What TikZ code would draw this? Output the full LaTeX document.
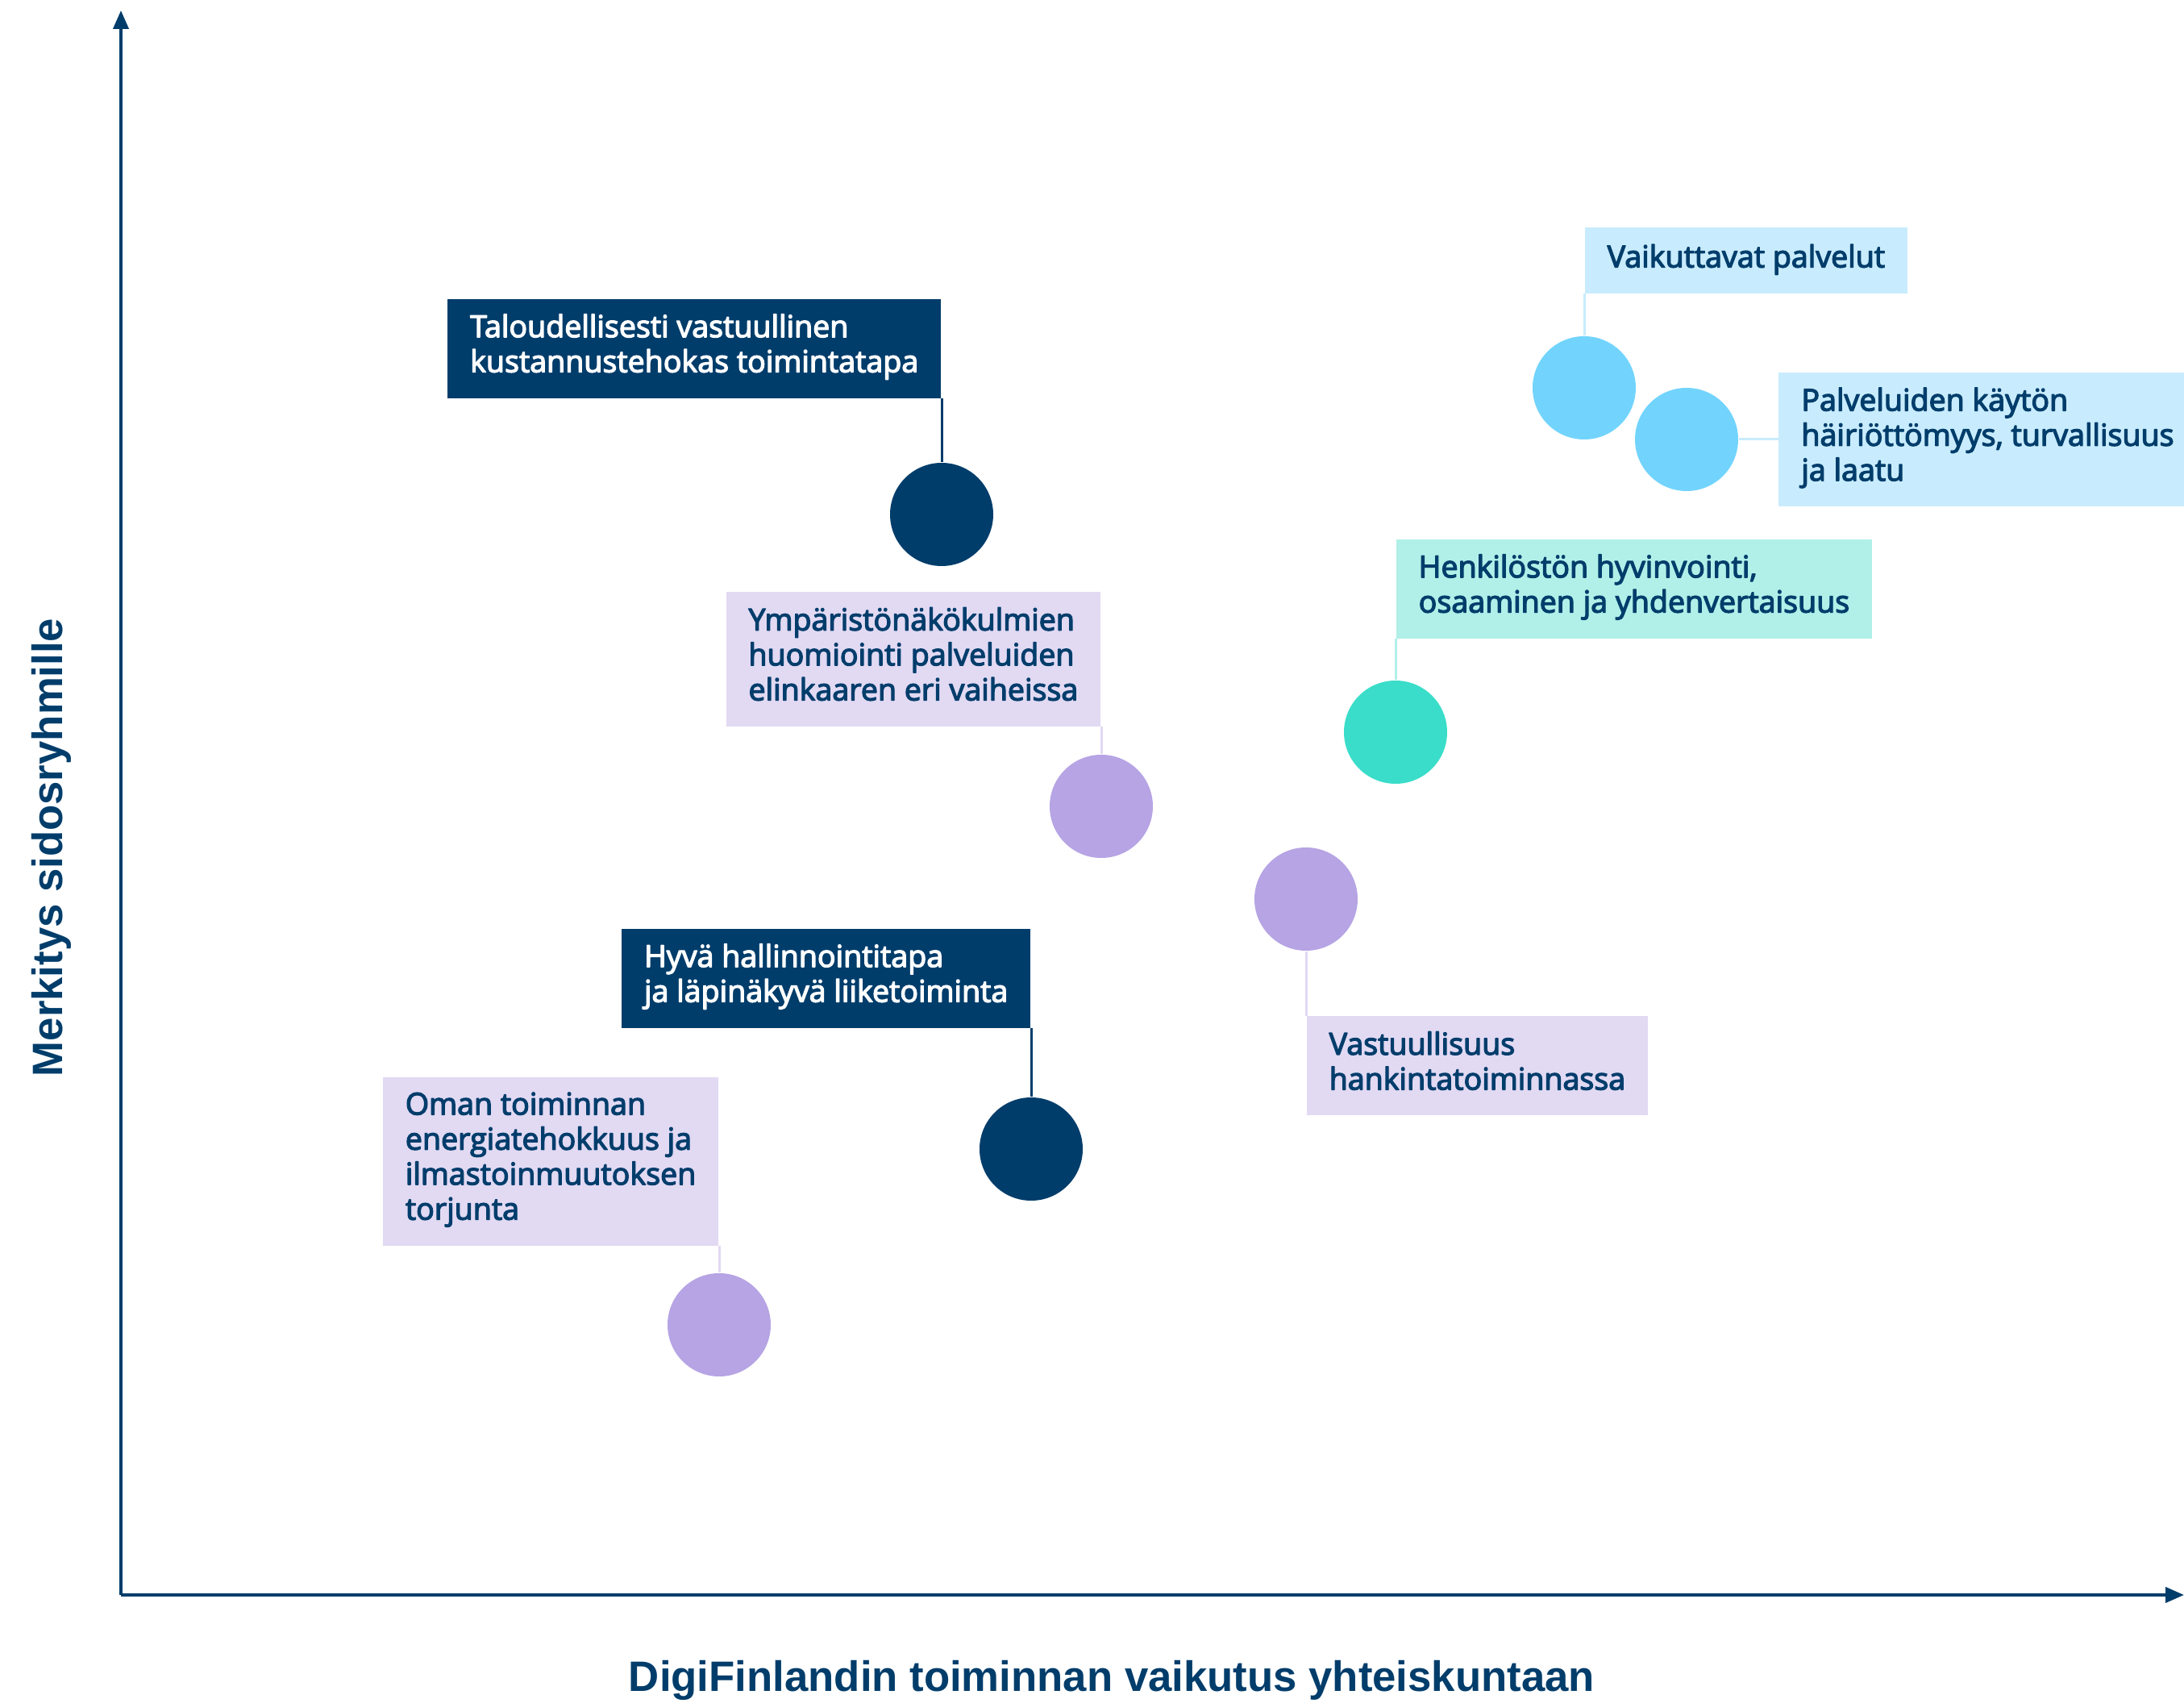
\documentclass[tikz,border=0pt]{standalone}
\usepackage{fontspec}
\setmainfont{Liberation Sans}
\newfontfamily\boxfont{Open Sans}[FakeBold=3.5]
\usetikzlibrary{positioning,arrows.meta}
\definecolor{dfnavy}{RGB}{1,61,107}
\definecolor{dflav}{RGB}{226,217,243}
\definecolor{dfpurple}{RGB}{182,164,228}
\definecolor{dfmint}{RGB}{176,240,232}
\definecolor{dfteal}{RGB}{58,221,201}
\definecolor{dfsky}{RGB}{200,236,253}
\definecolor{dfblue}{RGB}{114,212,253}
\tikzset{
  box/.style={inner xsep=0.28cm, inner ysep=0.19cm, align=left,
    font=\boxfont\fontsize{10.7}{12.35}\selectfont,
    execute at begin node=\strut, execute at end node=\strut},
  navybox/.style={box, fill=dfnavy, text=white},
  lavbox/.style={box, fill=dflav, text=dfnavy},
  mintbox/.style={box, fill=dfmint, text=dfnavy},
  skybox/.style={box, fill=dfsky, text=dfnavy},
  dot/.style={circle, minimum size=1.28cm, inner sep=0pt},
  link/.style={line width=0.03cm},
  axislabel/.style={text=dfnavy, font=\bfseries\fontsize{15}{18}\selectfont}
}
\begin{document}
\begin{tikzpicture}[line join=round]
  \useasboundingbox (-1.50,-1.34) rectangle (25.59,19.78);
  % akselit
  \coordinate (O) at (0,0);
  \coordinate (Y) at (0,19.65);
  \coordinate (X) at (25.59,0);
  \draw[dfnavy, line width=0.04cm, -{Triangle[length=0.23cm,width=0.19cm]}] (O)--(Y);
  \draw[dfnavy, line width=0.04cm, -{Triangle[length=0.23cm,width=0.19cm]}] (O)--(X);
  \node[axislabel, rotate=90, anchor=base] (ylab) at (-0.73,9.27) {Merkitys sidosryhmille};
  \node[axislabel, anchor=base] (xlab) at (12.29,-1.19) {DigiFinlandin toiminnan vaikutus yhteiskuntaan};
  % pallot
  \node[dot, fill=dfnavy] (c1) at (10.18,13.40) {};
  \node[dot, fill=dfpurple] (c2) at (12.16,9.78) {};
  \node[dot, fill=dfnavy] (c3) at (11.29,5.53) {};
  \node[dot, fill=dfpurple] (c4) at (7.42,3.35) {};
  \node[dot, fill=dfpurple] (c5) at (14.70,8.63) {};
  \node[dot, fill=dfteal] (c6) at (15.81,10.70) {};
  \node[dot, fill=dfblue] (c7) at (18.15,14.97) {};
  \node[dot, fill=dfblue] (c8) at (19.42,14.33) {};
  % laatikot
  \node[navybox, above left=0.79cm and 0cm of c1.north] (t1) {Taloudellisesti vastuullinen\\kustannustehokas toimintatapa};
  \node[lavbox, above left=0.34cm and 0cm of c2.north] (t2) {Ympäristönäkökulmien\\huomiointi palveluiden\\elinkaaren eri vaiheissa};
  \node[navybox, above left=0.85cm and 0cm of c3.north] (t3) {Hyvä hallinnointitapa\\ja läpinäkyvä liiketoiminta};
  \node[lavbox, above left=0.33cm and 0cm of c4.north] (t4) {Oman toiminnan\\energiatehokkuus ja\\ilmastoinmuutoksen\\torjunta};
  \node[lavbox, below right=0.80cm and 0cm of c5.south] (t5) {Vastuullisuus\\hankintatoiminnassa};
  \node[mintbox, above right=0.51cm and 0cm of c6.north] (t6) {Henkilöstön hyvinvointi,\\osaaminen ja yhdenvertaisuus};
  \node[skybox, above right=0.52cm and 0cm of c7.north] (t7) {Vaikuttavat palvelut};
  \node[skybox, right=0.49cm of c8] (t8) {Palveluiden käytön\\häiriöttömyys, turvallisuus\\ja laatu};
  % viivat
  \draw[link, dfnavy] (t1.south east)--(c1);
  \draw[link, dflav] (t2.south east)--(c2);
  \draw[link, dfnavy] (t3.south east)--(c3);
  \draw[link, dflav] (t4.south east)--(c4);
  \draw[link, dflav] (c5)--(t5.north west);
  \draw[link, dfmint] (t6.south west)--(c6);
  \draw[link, dfsky] (t7.south west)--(c7);
  \draw[link, dfsky] (c8)--(t8);
\end{tikzpicture}
\end{document}
